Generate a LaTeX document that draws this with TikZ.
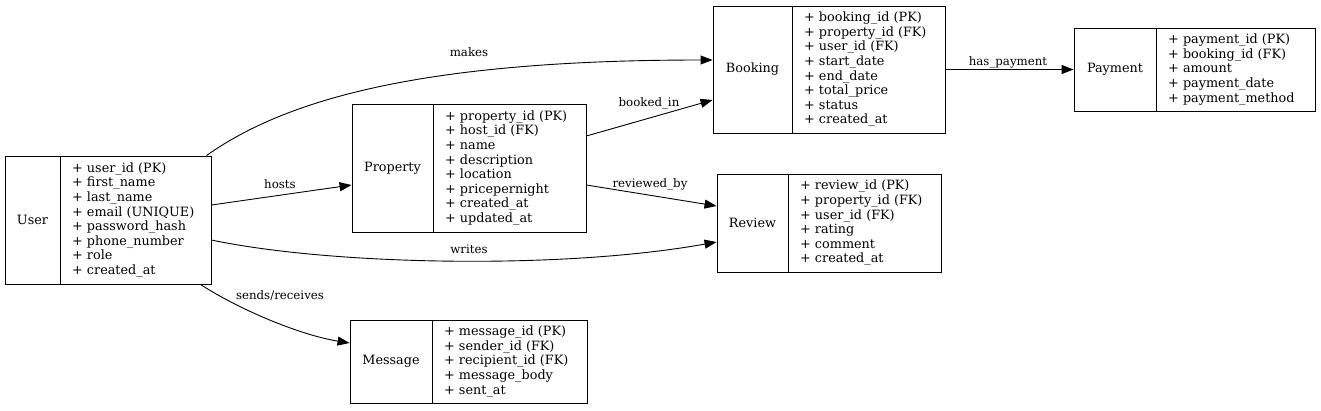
\documentclass[tikz,border=0pt]{standalone}
\usepackage{fontspec}
\setmainfont{DejaVu Serif}
\usetikzlibrary{arrows.meta,fit}
\tikzset{
  ebox/.style={draw, line width=0.9pt, inner sep=0pt},
  divline/.style={line width=0.9pt},
  ename/.style={font=\fontsize{12.8}{14.6}\selectfont, inner sep=0pt},
  eattr/.style={font=\fontsize{12.8}{14.6}\selectfont, inner sep=0pt, align=left, anchor=west},
  elabel/.style={font=\fontsize{11.8}{13}\selectfont, inner sep=0pt},
  rel/.style={line width=0.9pt, -{Triangle[length=12pt,width=9pt]}},
}
\newcommand{\myentity}[8]{%
  \path (#2,#3) coordinate (#1-nw) (#4,#5) coordinate (#1-se);
  \node[ebox, fit=(#1-nw)(#1-se)] (#1) {};
  \draw[divline] (#6,#3) -- (#6,#5);
  \node[ename] (#1-name) at ({(#2+#6)/2},{(#3+#5)/2}) {#7};
  \node[eattr] (#1-attrs) at ({#6+12},{(#3+#5)/2}) {#8};
}
\begin{document}
\begin{tikzpicture}[x=1pt,y=-1pt]
\useasboundingbox (0,0) rectangle (1321,410);
\myentity{user}{5}{156}{211}{284}{60}{User}{+ user\_id (PK)\\+ first\_name\\+ last\_name\\+ email (UNIQUE)\\+ password\_hash\\+ phone\_number\\+ role\\+ created\_at}
\myentity{property}{352}{104}{586}{232}{433}{Property}{+ property\_id (PK)\\+ host\_id (FK)\\+ name\\+ description\\+ location\\+ pricepernight\\+ created\_at\\+ updated\_at}
\myentity{booking}{713}{6}{945}{133}{792}{Booking}{+ booking\_id (PK)\\+ property\_id (FK)\\+ user\_id (FK)\\+ start\_date\\+ end\_date\\+ total\_price\\+ status\\+ created\_at}
\myentity{payment}{1074}{28}{1315}{111}{1156}{Payment}{+ payment\_id (PK)\\+ booking\_id (FK)\\+ amount\\+ payment\_date\\+ payment\_method}
\myentity{review}{717}{174}{941}{272}{788}{Review}{+ review\_id (PK)\\+ property\_id (FK)\\+ user\_id (FK)\\+ rating\\+ comment\\+ created\_at}
\myentity{message}{350}{320}{587}{403}{432}{Message}{+ message\_id (PK)\\+ sender\_id (FK)\\+ recipient\_id (FK)\\+ message\_body\\+ sent\_at}

% connectors
\draw[rel] ([xshift=-5pt]user.north east) .. controls (285,100) and (420,60) .. ([yshift=9.5pt]booking.west);
\draw[rel] ([yshift=15pt]user.east) -- ([yshift=-17pt]property.west);
\draw[rel] ([yshift=32pt]property.east) -- ([yshift=-30.5pt]booking.west);
\draw[rel] ([yshift=-17pt]property.east) -- ([yshift=17pt]review.west);
\draw[rel] ([yshift=-20pt]user.east) .. controls (330,265) and (560,270) .. ([yshift=-19pt]review.west);
\draw[rel] ([xshift=-11pt]user.south east) .. controls (240,310) and (300,335) .. ([yshift=18.5pt]message.west);
\draw[rel] (booking.east) -- (payment.west);

% labels
\node[elabel] (lmakes) at (469,52) {makes};
\node[elabel] (lbooked) at (649,103) {booked\_in};
\node[elabel] (lhosts) at (280,184) {hosts};
\node[elabel] (lreviewed) at (650,184) {reviewed\_by};
\node[elabel] (lwrites) at (469,249) {writes};
\node[elabel] (lsends) at (280,296) {sends/receives};
\node[elabel] (lpay) at (1008,62) {has\_payment};
\end{tikzpicture}
\end{document}
